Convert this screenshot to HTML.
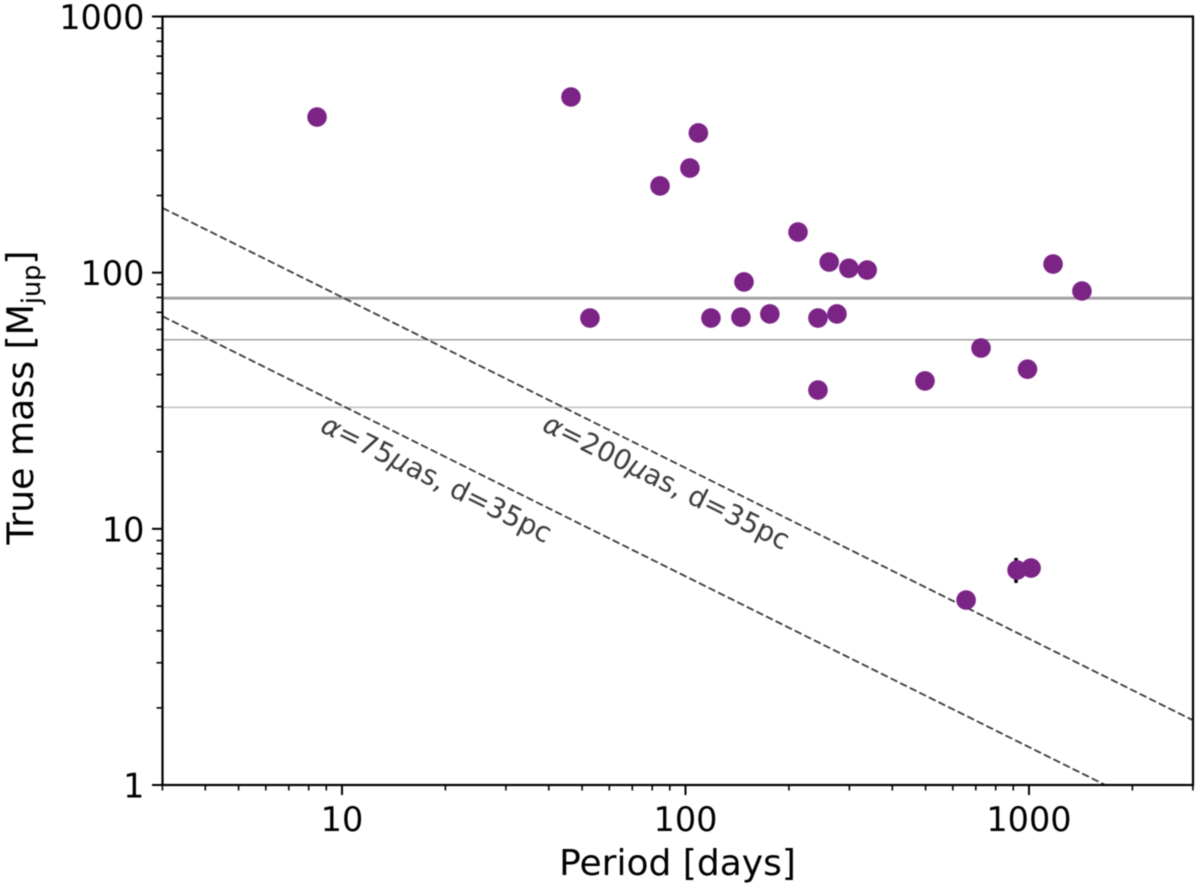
<!DOCTYPE html>
<html>
<head>
<meta charset="utf-8">
<title>True mass vs period</title>
<style>
html,body{margin:0;padding:0;background:#fff;width:1200px;height:888px;overflow:hidden}
svg{display:block;font-family:"DejaVu Sans","Liberation Sans",sans-serif;filter:blur(0.45px)}
</style>
</head>
<body>
<svg id="chart" xmlns="http://www.w3.org/2000/svg" width="1200" height="888" viewBox="0 0 1200 888">
<defs><clipPath id="plot-clip"><rect x="162.5" y="16.5" width="1030.5" height="768.5"/></clipPath></defs>
<g id="h-lines" clip-path="url(#plot-clip)"></g>
<g id="d-lines" clip-path="url(#plot-clip)"></g>
<g id="err"></g>
<g id="pts"></g>
<g id="ticks"></g>
<rect x="162.5" y="16.5" width="1030.5" height="768.5" fill="none" stroke="#000" stroke-width="2.2"/>
<text transform="translate(319,431) rotate(26.4)" font-size="27.8" fill="#3c3c3c"><tspan font-style="italic">α</tspan>=75<tspan font-style="italic">μ</tspan>as, d=35pc</text>
<text transform="translate(541,430) rotate(26.4)" font-size="27.8" fill="#3c3c3c"><tspan font-style="italic">α</tspan>=200<tspan font-style="italic">μ</tspan>as, d=35pc</text>
<text x="677.5" y="875" font-size="36" text-anchor="middle" fill="#000">Period [days]</text>
<text transform="translate(33,397.5) rotate(-90)" font-size="36.2" text-anchor="middle" fill="#000">True mass [M<tspan font-size="25.5" dy="7">jup</tspan><tspan dy="-7">]</tspan></text>
</svg>
<script>
var periods = [8.46,46.4,52.7,84.3,103,109,118.6,145,148,176,212.6,243,243,262,276,299,338,498,656,725,923,1014,990,1175,1426];
var masses = [405,485,66.5,218,256,351,66.5,67,92,69,144,66.5,34.8,110,69,104,102.4,37.8,5.27,50.8,6.9,7.03,42,108,84.8];
var errPeriods = [923];
var errLow = [6.15];
var errHigh = [7.7];
var limitMasses = [79.5,54.7,29.8];
var limitWidths = [2.8,1.5,1.5];
var limitColors = ['#a0a0a0','#a0a0a0','#c0c0c0'];
var dashPeriods = [3,3000];
var dash200 = [179,1.79];
var dash75 = [67.6,0.676];
var xTickValues = [10,100,1000];
var xTickLabels = ['10','100','1000'];
var yTickValues = [1,10,100,1000];
var yTickLabels = ['1','10','100','1000'];
var xMinorValues = [3,4,5,6,7,8,9,20,30,40,50,60,70,80,90,200,300,400,500,600,700,800,900,2000,3000];
var yMinorValues = [2,3,4,5,6,7,8,9,20,30,40,50,60,70,80,90,200,300,400,500,600,700,800,900];

var NS = 'http://www.w3.org/2000/svg';
function sx(v){ return 342 + (Math.log10(v) - 1) * 343.5; }
function sy(v){ return 785 - Math.log10(v) * 256.17; }
function mk(tag, parentId, attrs){
  var el = document.createElementNS(NS, tag);
  for (var k in attrs) el.setAttribute(k, attrs[k]);
  document.getElementById(parentId).appendChild(el);
  return el;
}
var i, el;
for (i = 0; i < limitMasses.length; i++) {
  el = mk('line', 'h-lines', {x1: 162.5, x2: 1193, y1: sy(limitMasses[i]), y2: sy(limitMasses[i]), stroke: limitColors[i], 'stroke-width': limitWidths[i]});
  
  
}
[dash200, dash75].forEach(function(series){
  var line = mk('line', 'd-lines', {x1: sx(dashPeriods[0]), x2: sx(dashPeriods[1]), y1: sy(series[0]), y2: sy(series[1]), stroke: '#3a3a3a', 'stroke-width': 1.8, 'stroke-dasharray': '7.5 3.2'});
  
  
});
for (i = 0; i < errPeriods.length; i++) {
  el = mk('line', 'err', {x1: sx(errPeriods[i]) - 1, x2: sx(errPeriods[i]) - 1, y1: sy(errLow[i]), y2: sy(errHigh[i]), stroke: '#000', 'stroke-width': 3.5});
  
  
}
for (i = 0; i < periods.length; i++) {
  el = mk('circle', 'pts', {cx: sx(periods[i]), cy: sy(masses[i]), r: 9.8, fill: '#7b2486'});
  
  
}
xMinorValues.forEach(function(v){
  var t = mk('line', 'ticks', {x1: sx(v), x2: sx(v), y1: 785, y2: 790.5, stroke: '#000', 'stroke-width': 1.6});
  
  
});
yMinorValues.forEach(function(v){
  var t = mk('line', 'ticks', {x1: 156.5, x2: 162.5, y1: sy(v), y2: sy(v), stroke: '#000', 'stroke-width': 1.6});
  
  
});
xTickValues.forEach(function(v, n){
  var t = mk('line', 'ticks', {x1: sx(v), x2: sx(v), y1: 785, y2: 795, stroke: '#000', 'stroke-width': 2});
  
  
  var lab = mk('text', 'ticks', {x: sx(v), y: 831, 'font-size': 33.5, 'text-anchor': 'middle', fill: '#000'});
  
  
  lab.textContent = xTickLabels[n];
});
yTickValues.forEach(function(v, n){
  var t = mk('line', 'ticks', {x1: 152, x2: 162.5, y1: sy(v), y2: sy(v), stroke: '#000', 'stroke-width': 2});
  
  
  var lab = mk('text', 'ticks', {x: 144.5, y: sy(v) + 12.5, 'font-size': 33.5, 'text-anchor': 'end', fill: '#000'});
  
  
  lab.textContent = yTickLabels[n];
});
</script>
</body>
</html>
